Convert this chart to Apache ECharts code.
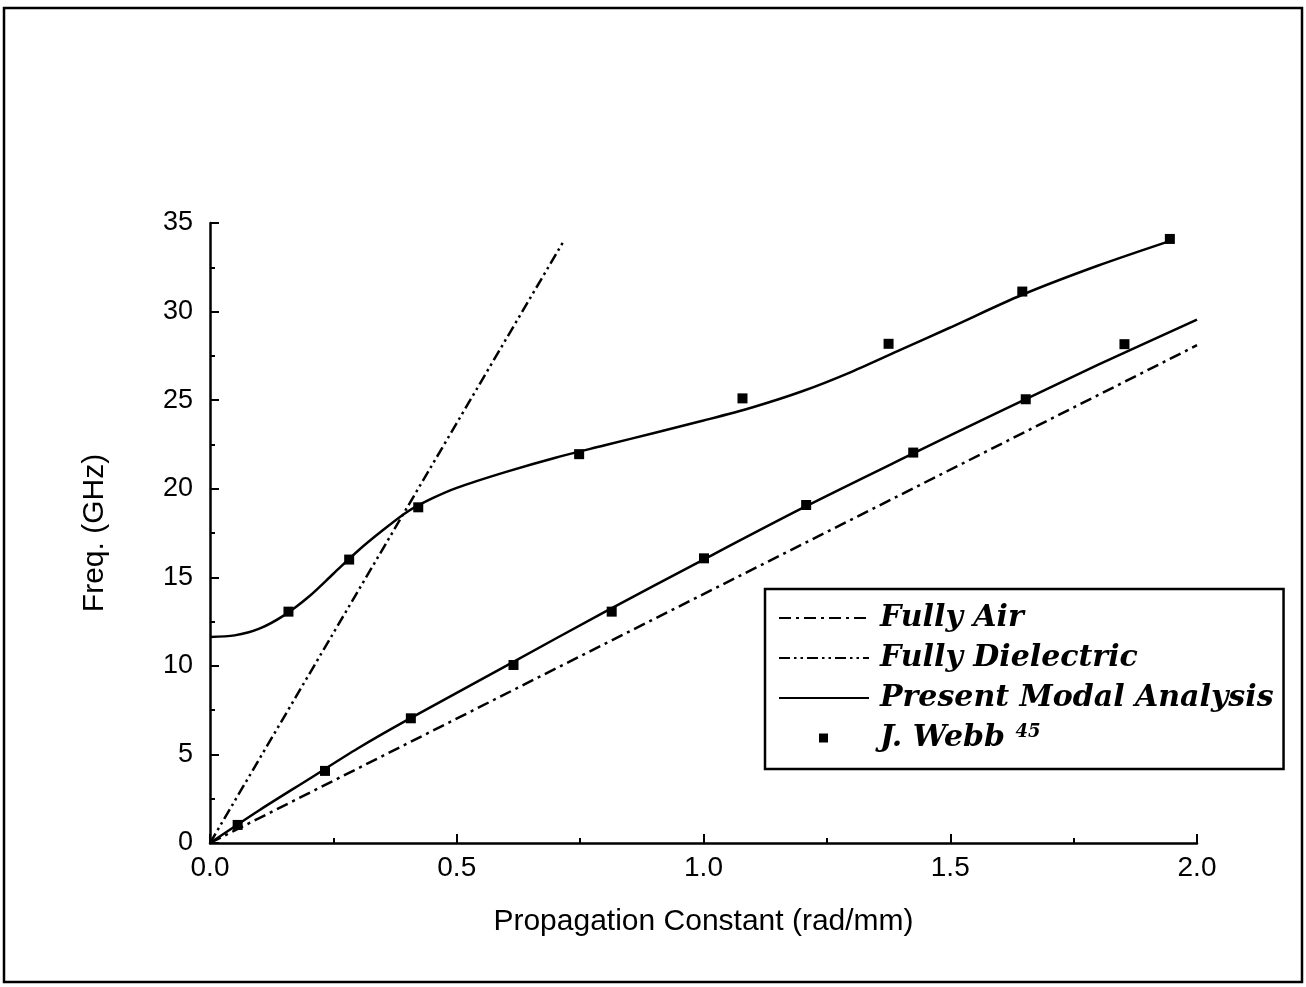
<!DOCTYPE html>
<html>
<head>
<meta charset="utf-8">
<script src="https://cdn.jsdelivr.net/npm/echarts@6/dist/echarts.min.js"></script>
<style>
  html, body { margin: 0; padding: 0; background: #fff; }
  #chart { width: 1306px; height: 987px; }
</style>
</head>
<body>
<div id="chart"></div>
<script>
// Propagation constant (rad/mm) vs frequency (GHz)

// Limiting cases (straight lines from the origin)
const airBeta = [0, 2.0];
const airFreq = [0, 28.1];
const dielBeta = [0, 0.715];
const dielFreq = [0, 33.9];

// Present modal analysis — upper mode
const upperBeta = [0, 0.05, 0.1, 0.15, 0.2, 0.25, 0.3, 0.35, 0.4, 0.45, 0.5, 0.6, 0.7, 0.8, 0.9, 1.0, 1.1, 1.2, 1.3, 1.4, 1.5, 1.646, 1.8, 1.952];
const upperFreq = [11.63, 11.72, 12.1, 12.85, 13.9, 15.2, 16.5, 17.65, 18.7, 19.45, 20.05, 20.95, 21.75, 22.45, 23.15, 23.85, 24.6, 25.5, 26.6, 27.85, 29.1, 30.95, 32.6, 34.05];

// Present modal analysis — lower mode
const lowerBeta = [0, 0.1, 0.2, 0.3, 0.4, 0.6, 0.8, 1.0, 1.2, 1.4, 1.6, 1.8, 2.0];
const lowerFreq = [0, 1.85, 3.6, 5.35, 6.95, 10.0, 13.05, 16.0, 18.9, 21.65, 24.35, 27.0, 29.55];

// Reference data points (J. Webb)
const webbBeta = [0.159, 0.282, 0.422, 0.748, 1.079, 1.375, 1.646, 1.945,
                  0.056, 0.233, 0.407, 0.615, 0.814, 1.001, 1.208, 1.425, 1.653, 1.853];
const webbFreq = [13.06, 16.0, 18.95, 21.95, 25.1, 28.18, 31.13, 34.1,
                  1.02, 4.07, 7.04, 10.05, 13.06, 16.07, 19.08, 22.04, 25.05, 28.16];

const xTicks = ['0.0', '0.5', '1.0', '1.5', '2.0'];

const pair = (xs, ys) => xs.map((x, i) => [x, ys[i]]);

const chart = echarts.init(document.getElementById('chart'), null, { renderer: 'canvas' });

const nameFont = { color: '#000', fontFamily: 'Liberation Sans', fontSize: 30 };
const hideSymbol = { opacity: 0 };

chart.setOption({
  backgroundColor: '#fff',
  animation: false,
  graphic: [{
    type: 'rect',
    shape: { x: 4, y: 8, width: 1298, height: 974 },
    style: { fill: 'none', stroke: '#000', lineWidth: 2.5 },
    silent: true
  }],
  grid: { left: 210, right: 109, top: 223, bottom: 144, containLabel: false },
  xAxis: {
    type: 'value', min: 0, max: 2, interval: 0.5,
    name: 'Propagation Constant (rad/mm)',
    nameLocation: 'middle', nameGap: 64, nameTextStyle: nameFont,
    axisLine: { show: true, onZero: false, lineStyle: { color: '#000', width: 2.5 } },
    axisTick: { show: true, inside: true, length: 9, lineStyle: { color: '#000', width: 2 } },
    minorTick: { show: true, splitNumber: 2, length: 5, lineStyle: { color: '#000', width: 2 } },
    splitLine: { show: false },
    axisLabel: { color: '#000', fontFamily: 'Liberation Sans', fontSize: 28, margin: 11,
                 formatter: v => xTicks[Math.round(v / 0.5)] }
  },
  yAxis: {
    type: 'value', min: 0, max: 35, interval: 5,
    name: 'Freq. (GHz)',
    nameLocation: 'middle', nameGap: 100, nameRotate: 90, nameTextStyle: nameFont,
    axisLine: { show: true, onZero: false, lineStyle: { color: '#000', width: 2.5 } },
    axisTick: { show: true, inside: true, length: 9, lineStyle: { color: '#000', width: 2 } },
    minorTick: { show: true, splitNumber: 2, length: 5, lineStyle: { color: '#000', width: 2 } },
    splitLine: { show: false },
    axisLabel: { color: '#000', fontFamily: 'Liberation Sans', fontSize: 27, margin: 17 }
  },
  legend: {
    orient: 'vertical',
    left: 765, top: 589,
    padding: [14, 10, 16, 13],
    itemWidth: 90, itemHeight: 14, itemGap: 10,
    backgroundColor: '#fff',
    borderColor: '#000', borderWidth: 2.5,
    data: [
      { name: 'Fully Air', itemStyle: hideSymbol },
      { name: 'Fully Dielectric', itemStyle: hideSymbol },
      { name: 'Present Modal Analysis', itemStyle: hideSymbol },
      { name: 'J. Webb', icon: 'path://M0,0M90,14M40,2.5h9v9h-9z', itemStyle: { color: '#000' } }
    ],
    formatter: n => n === 'J. Webb' ? 'J. Webb {sup|45}' : n,
    textStyle: {
      color: '#000', fontFamily: 'DejaVu Serif', fontStyle: 'italic', fontWeight: 'bold',
      fontSize: 30, lineHeight: 30, padding: [0, 0, 0, 6],
      rich: {
        sup: { fontFamily: 'DejaVu Serif', fontSize: 18, verticalAlign: 'top', padding: [0, 0, 14, 0], color: '#000' }
      }
    }
  },
  series: [
    {
      name: 'Fully Air', type: 'line', data: pair(airBeta, airFreq),
      symbol: 'none', itemStyle: { color: '#000' },
      lineStyle: { color: '#000', width: 2.5, type: [12, 5, 3, 5] }
    },
    {
      name: 'Fully Dielectric', type: 'line', data: pair(dielBeta, dielFreq),
      symbol: 'none', itemStyle: { color: '#000' },
      lineStyle: { color: '#000', width: 2.5, type: [11, 4, 2.5, 4, 2.5, 4] }
    },
    {
      name: 'Present Modal Analysis', type: 'line', data: pair(upperBeta, upperFreq),
      symbol: 'none', smooth: 0.3, itemStyle: { color: '#000' },
      lineStyle: { color: '#000', width: 2.5 }
    },
    {
      name: 'Present Modal Analysis', type: 'line', data: pair(lowerBeta, lowerFreq),
      symbol: 'none', smooth: 0.3, itemStyle: { color: '#000' },
      lineStyle: { color: '#000', width: 2.5 }
    },
    {
      name: 'J. Webb', type: 'scatter', data: pair(webbBeta, webbFreq),
      symbol: 'rect', symbolSize: 10, itemStyle: { color: '#000', opacity: 1 }, z: 5
    }
  ]
});
</script>
</body>
</html>
